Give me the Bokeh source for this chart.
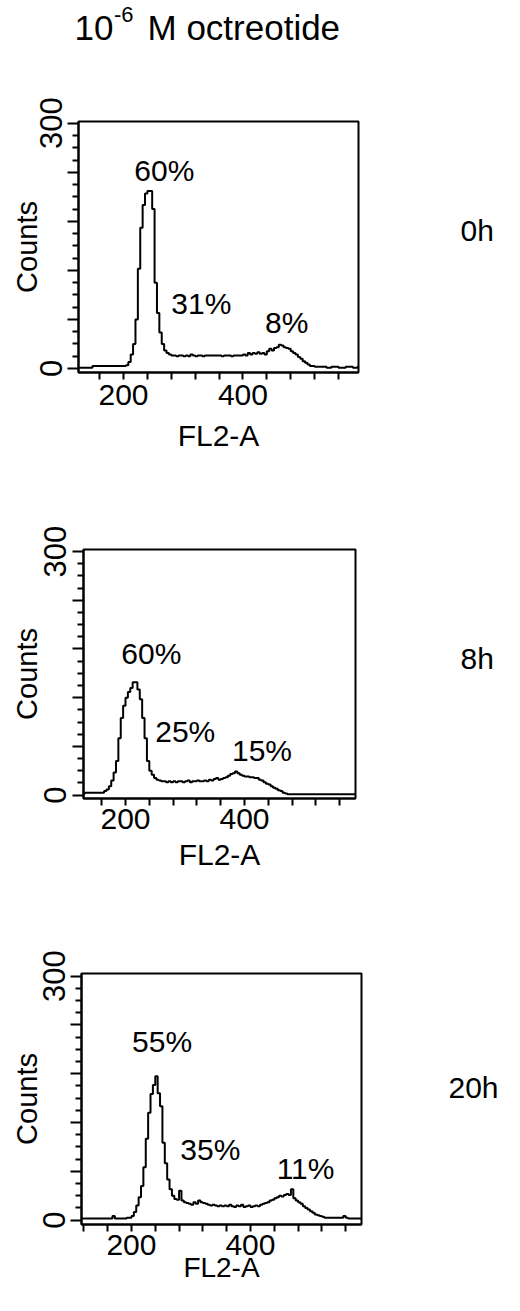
from bokeh.plotting import figure
from bokeh.models import FixedTicker, Label, Range1d
from bokeh.layouts import column, row
from bokeh.core.properties import value
from bokeh.embed import file_html
from bokeh.resources import INLINE

FONT = "Liberation Sans"

# ---------------- data ----------------
# FL2-A channel (left edge of each 4-channel bin)
bin_left = list(range(116, 596, 4))
bin_width = 4

counts_0h = [
    1, 1, 1, 1, 1, 1, 1, 1, 3, 3,
    3, 3, 3, 3, 3, 3, 3, 3, 3, 3,
    3, 3, 4, 8, 17, 30, 60, 122, 172, 200,
    214, 217, 217, 195, 105, 68, 44, 30, 22, 19,
    17, 16, 16, 15, 16, 16, 15, 16, 15, 17,
    16, 15, 16, 16, 15, 16, 16, 16, 16, 16,
    16, 16, 15, 16, 16, 16, 15, 16, 16, 16,
    16, 17, 16, 19, 17, 19, 18, 20, 18, 19,
    17, 21, 24, 22, 25, 26, 29, 28, 26, 25,
    24, 21, 19, 17, 14, 12, 9, 7, 5, 3,
    3, 2, 2, 2, 2, 2, 1, 1, 2, 2,
    2, 1, 1, 1, 2, 2, 2, 1, 1, 2,
]

counts_8h = [
    2, 2, 2, 2, 3, 3, 3, 3, 3, 3,
    3, 3, 5, 7, 11, 18, 28, 42, 70, 95,
    110, 120, 127, 132, 139, 139, 130, 118, 95, 70,
    42, 30, 25, 21, 19, 18, 17, 17, 16, 17,
    16, 17, 16, 17, 17, 16, 17, 18, 16, 17,
    17, 18, 17, 17, 18, 17, 19, 18, 20, 21,
    19, 20, 21, 22, 24, 26, 27, 29, 27, 25,
    24, 23, 23, 22, 22, 21, 21, 19, 18, 16,
    14, 13, 11, 9, 8, 6, 5, 3, 2, 1,
    1, 1, 1, 1, 1, 1, 1, 1, 1, 1,
    1, 1, 1, 1, 1, 1, 1, 1, 1, 1,
    1, 1, 1, 1, 1, 1, 1, 1, 1, 1,
]

counts_20h = [
    2, 2, 2, 2, 2, 2, 2, 2, 2, 2,
    2, 2, 2, 5, 2, 2, 2, 2, 2, 3,
    3, 5, 10, 18, 28, 42, 65, 100, 132, 155,
    166, 177, 156, 140, 95, 70, 50, 38, 30, 26,
    25, 36, 24, 22, 21, 20, 19, 22, 20, 24,
    22, 21, 20, 19, 18, 19, 18, 17, 18, 17,
    18, 17, 19, 17, 16, 18, 17, 19, 16, 17,
    18, 16, 17, 18, 17, 19, 20, 21, 22, 24,
    25, 27, 28, 30, 29, 31, 32, 31, 38, 27,
    24, 22, 20, 17, 15, 13, 11, 9, 7, 6,
    5, 4, 3, 3, 3, 3, 3, 3, 3, 3,
    5, 3, 2, 2, 2, 2, 2, 2, 2, 2,
]

pct_0h_text = ["60%", "31%", "8%"]
pct_0h_x = [218, 280, 437]
pct_0h_y = [242, 79, 56]

pct_8h_text = ["60%", "25%", "15%"]
pct_8h_x = [193, 250, 379]
pct_8h_y = [174, 78, 55]

pct_20h_text = ["55%", "35%", "11%"]
pct_20h_x = [201, 282, 444]
pct_20h_y = [219, 87, 63]

time_labels = ["0h", "8h", "20h"]
title_parts = ["10", "-6", "M octreotide"]
x_title = "FL2-A"
y_title = "Counts"

x_major_ticks = [200, 400]
x_minor_ticks = [120, 160, 240, 280, 320, 360, 440, 480, 520, 560]
y_major_ticks = [0, 60, 120, 180, 240, 300]
y_tick_labels = {0: "0", 60: "", 120: "", 180: "", 240: "", 300: "300"}
y_minor_ticks = [15, 30, 45, 75, 90, 105, 135, 150, 165, 195, 210, 225, 255, 270, 285]

# ---------------- layout (page pixel geometry) ----------------
PAGE_X0 = 8
ROW_RIGHT = 508  # right edge of each row on the page (small slack)

geo = [
    dict(row_y=70, bl=78, fw=280, br=5, bt=59, fh=251, bb=100,
         xr=(124.6, 593.5), yr=(-4.9, 302.1),
         xs=5, ls=11, lfs=30, ys=5, yls=-5,
         time_xy=(468, 248)),
    dict(row_y=480, bl=83, fw=272, br=5, bt=77, fh=249, bb=124,
         xr=(129.4, 586.6), yr=(-4.1, 302.5),
         xs=3, ls=6, lfs=30, ys=6, yls=-1,
         time_xy=(468, 677)),
    dict(row_y=930, bl=81, fw=280, br=5, bt=51, fh=251, bb=69,
         xr=(116.0, 586.6), yr=(-5.4, 303.2),
         xs=3, ls=-6, lfs=28, ys=5, yls=-2,
         time_xy=(456, 1099)),
]


def text_fig(x0, y0, w, h, items):
    """A blank figure whose frame covers it entirely; ranges are page pixels (y negated)."""
    p = figure(width=w, height=h, x_range=Range1d(x0, x0 + w), y_range=Range1d(-(y0 + h), -y0),
               min_border=0, x_axis_location=None, y_axis_location=None,
               output_backend="svg", toolbar_location=None, tools="")
    p.grid.visible = False
    p.outline_line_color = None
    p.background_fill_color = "white"
    p.border_fill_color = "white"
    for (t, x, y, size, align) in items:
        p.text(x=[x], y=[-y], text=[t], text_font=value(FONT), text_font_size=f"{size}px",
               text_color="black", text_align=align, text_baseline="alphabetic")
    return p


def make_panel(counts, pct_text, pct_x, pct_y, g):
    p = figure(frame_width=g["fw"], frame_height=g["fh"],
               x_range=Range1d(*g["xr"]), y_range=Range1d(*g["yr"]),
               min_border_left=g["bl"], min_border_right=g["br"],
               min_border_top=g["bt"], min_border_bottom=g["bb"],
               output_backend="svg", toolbar_location=None, tools="")
    p.xgrid.visible = False
    p.ygrid.visible = False
    p.background_fill_color = "white"
    p.border_fill_color = "white"
    p.outline_line_color = "black"
    p.outline_line_width = 2

    xs = bin_left + [bin_left[-1] + bin_width]
    ys = counts + [counts[-1]]
    p.step(xs, ys, mode="after", line_color="black", line_width=2)

    xa = p.xaxis[0]
    xa.ticker = FixedTicker(ticks=x_major_ticks, minor_ticks=x_minor_ticks)
    xa.axis_line_color = "black"
    xa.axis_line_width = 2
    xa.major_tick_in = 0
    xa.major_tick_out = 7
    xa.minor_tick_in = 0
    xa.minor_tick_out = 7
    xa.major_tick_line_width = 2
    xa.minor_tick_line_width = 2
    xa.major_tick_line_color = "black"
    xa.minor_tick_line_color = "black"
    xa.major_label_standoff = g["xs"]
    xa.major_label_text_font = FONT
    xa.major_label_text_font_size = "30px"
    xa.major_label_text_color = "black"
    xa.axis_label = x_title
    xa.axis_label_standoff = g["ls"]
    xa.axis_label_text_font = FONT
    xa.axis_label_text_font_size = f"{g['lfs']}px"
    xa.axis_label_text_font_style = "normal"
    xa.axis_label_text_color = "black"

    ya = p.yaxis[0]
    ya.ticker = FixedTicker(ticks=y_major_ticks, minor_ticks=y_minor_ticks)
    ya.major_label_overrides = y_tick_labels
    ya.major_label_orientation = "vertical"
    ya.axis_line_color = "black"
    ya.axis_line_width = 2
    ya.major_tick_in = 0
    ya.major_tick_out = 11
    ya.minor_tick_in = 0
    ya.minor_tick_out = 6
    ya.major_tick_line_width = 2
    ya.minor_tick_line_width = 2
    ya.major_tick_line_color = "black"
    ya.minor_tick_line_color = "black"
    ya.major_label_standoff = g["ys"]
    ya.major_label_text_font = FONT
    ya.major_label_text_font_size = "31px"
    ya.major_label_text_color = "black"
    ya.axis_label = y_title
    ya.axis_label_standoff = g["yls"]
    ya.axis_label_text_font = FONT
    ya.axis_label_text_font_size = "29px"
    ya.axis_label_text_font_style = "normal"
    ya.axis_label_text_color = "black"

    for t, x, y in zip(pct_text, pct_x, pct_y):
        p.add_layout(Label(x=x, y=y, text=t, text_font=FONT, text_font_size="30px",
                           text_color="black", text_align="left", text_baseline="alphabetic"))
    return p


def make_row(counts, pct_text, pct_x, pct_y, time_label, g):
    h = g["bt"] + g["fh"] + g["bb"]
    panel = make_panel(counts, pct_text, pct_x, pct_y, g)
    rx0 = PAGE_X0 + g["bl"] + g["fw"] + g["br"]
    tx, ty = g["time_xy"]
    right = text_fig(rx0, g["row_y"], ROW_RIGHT - rx0, h, [(time_label, tx, ty, 30, "left")])
    return row(panel, right, spacing=0)


title_fig = text_fig(PAGE_X0, 8, ROW_RIGHT - PAGE_X0, 62, [
    (title_parts[0], 82.0, 35.0, 35, "left"),
    (title_parts[1], 121.5, 21.7, 22, "left"),
    (title_parts[2], 155.0, 35.0, 35, "left"),
])

r1 = make_row(counts_0h, pct_0h_text, pct_0h_x, pct_0h_y, time_labels[0], geo[0])
r2 = make_row(counts_8h, pct_8h_text, pct_8h_x, pct_8h_y, time_labels[1], geo[1])
r3 = make_row(counts_20h, pct_20h_text, pct_20h_x, pct_20h_y, time_labels[2], geo[2])

layout = column(title_fig, r1, r2, r3, spacing=0)
open("out.html", "w").write(file_html(layout, INLINE))
